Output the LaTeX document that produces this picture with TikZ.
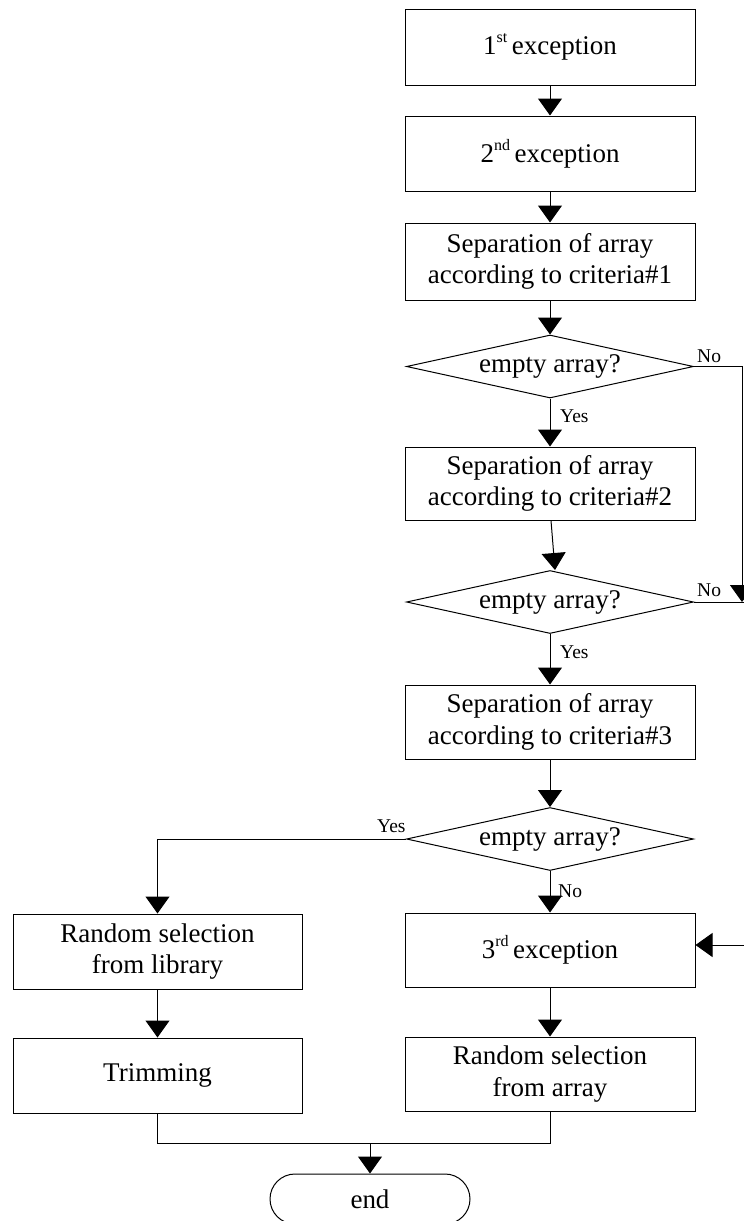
\documentclass[tikz,border=0pt]{standalone}
\usepackage{fontspec}
\setmainfont{Liberation Serif}
\usetikzlibrary{arrows.meta,shapes.geometric,calc}
\newcommand{\mfs}{\fontsize{27}{31.5}\selectfont}
\newcommand{\lfs}{\fontsize{19.5}{23}\selectfont}
\newcommand{\supx}[1]{\raisebox{12pt}{\fontsize{16}{16}\selectfont #1}\,}
\tikzset{
  proc/.style={draw, line width=1pt, minimum width=290pt, minimum height=75pt, inner sep=0pt, align=center, font=\mfs},
  dec/.style={draw, diamond, aspect=4.5, line width=1pt, minimum width=287pt, minimum height=63pt, inner sep=0pt, font=\mfs},
  term/.style={draw, rounded corners=25pt, minimum width=200pt, minimum height=50pt, inner sep=0pt, line width=1pt, font=\mfs},
  conn/.style={line width=1pt},
  arr/.style={conn, -{Triangle[width=24pt,length=17pt]}},
  lbl/.style={font=\lfs, inner sep=0pt, anchor=base west},
}
\begin{document}
\begin{tikzpicture}[x=1pt,y=-1pt]
\useasboundingbox (0,0) rectangle (744,1221);
% main column
\node[proc, minimum height=76pt] (b1) at (550,47) {1\supx{st}exception};
\node[proc] (b2) at (550,153.5) {2\supx{nd}exception};
\node[proc, minimum height=77pt] (b3) at (550,261.5) {Separation of array\\according to criteria\#1};
\node[dec] (d1) at (550,366.5) {empty array?};
\node[proc, minimum height=73pt] (b4) at (550,483.5) {Separation of array\\according to criteria\#2};
\node[dec] (d2) at (550,602) {empty array?};
\node[proc, minimum height=74pt] (b5) at (550,722) {Separation of array\\according to criteria\#3};
\node[dec] (d3) at (550,839) {empty array?};
\node[proc, minimum height=74pt] (b6) at (550,950) {3\supx{rd}exception};
\node[proc, minimum height=74pt] (b7) at (550,1074) {Random selection\\from array};
% left column
\node[proc, minimum width=289pt] (L1) at (157.5,951.5) {Random selection\\from library};
\node[proc, minimum width=289pt] (L2) at (157.5,1075.5) {Trimming};
% end
\node[term] (end) at (370,1199) {end};
% helper coordinates
\coordinate (r1) at (742,366.5);
\coordinate (r2) at (742,602);
\coordinate (r3) at (770,602);
\coordinate (r4) at (770,945);
\coordinate (j) at (370,1143);
% connectors
\draw[arr] (b1) -- (b2);
\draw[arr] (b2) -- (b3);
\draw[arr] (b3) -- (d1);
\draw[arr] (d1) -- (b4);
\draw[arr] (d1.east) -- (r1) -- (r2);
\draw[arr] ([xshift=1pt]b4.south) -- ([xshift=5pt]d2.north);
\draw[conn] (d2.east) -- (r3);
\draw[arr] (d2) -- (b5);
\draw[arr] (b5) -- (d3);
\draw[arr] (d3.west) -| (L1.north);
\draw[arr] (d3) -- (b6);
\draw[arr] (r4) -- (r4 -| b6.east);
\draw[arr] (b6) -- (b7);
\draw[arr] (L1) -- (L2);
\draw[conn] (L2.south) |- (j) -| (b7.south);
\draw[arr] (j) -- (end.north);
% labels
\node[lbl] (n1) at (697,362) {No};
\node[lbl] (y1) at (560,422) {Yes};
\node[lbl] (n2) at (697,596) {No};
\node[lbl] (y2) at (560,658) {Yes};
\node[lbl] (y3) at (377,832) {Yes};
\node[lbl] (n3) at (558,897) {No};
\end{tikzpicture}
\end{document}
